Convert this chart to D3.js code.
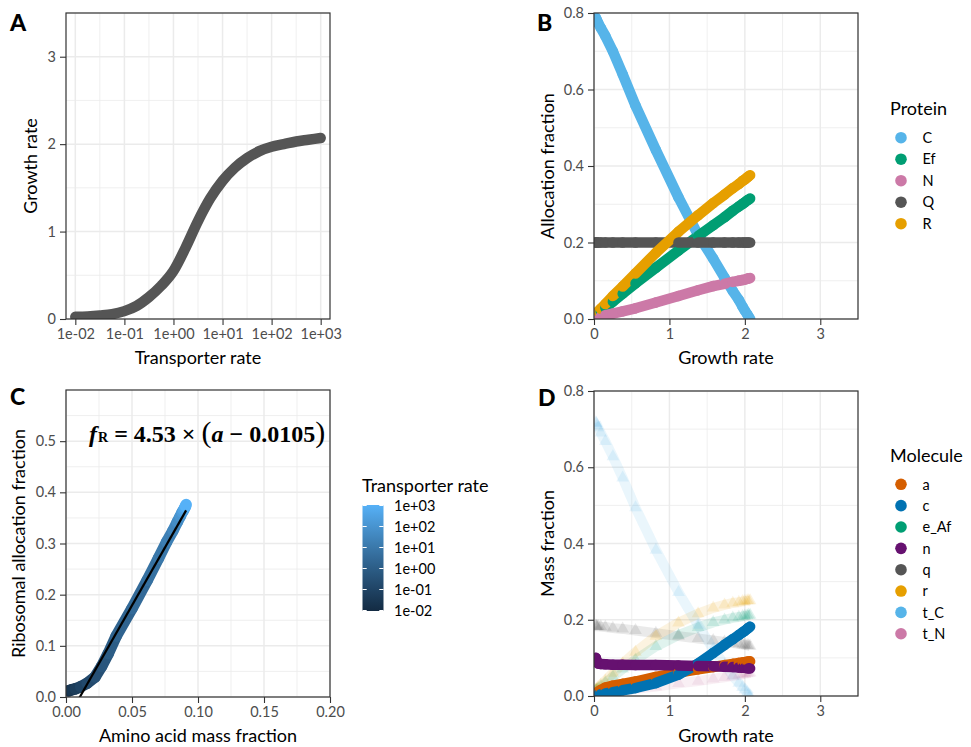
<!DOCTYPE html>
<html>
<head>
<meta charset="utf-8">
<script src="https://cdn.jsdelivr.net/npm/d3@7"></script>
<style>
  body { margin: 0; background: #fff; }
  svg { display: block; }
</style>
</head>
<body>
<svg id="fig" width="971" height="747"></svg>
<script>
// ---------- model sweep over the transporter rate ----------
const transporterRate = [0.01, 0.0178, 0.0316, 0.0562, 0.1, 0.178, 0.316, 0.562, 1, 1.78, 3.16,
                         5.62, 10, 17.8, 31.6, 56.2, 100, 178, 316, 562, 1000];
const growthRate = [0.025, 0.03, 0.04, 0.055, 0.09, 0.15, 0.25, 0.38, 0.55, 0.82, 1.12,
                    1.38, 1.58, 1.73, 1.84, 1.92, 1.97, 2.00, 2.03, 2.05, 2.07];

// protein allocation fractions
const proteinNames = ["C", "Ef", "N", "Q", "R"];
const allocC  = [0.787, 0.785, 0.78, 0.774, 0.761, 0.74, 0.70, 0.64, 0.558, 0.442, 0.318,
                 0.22, 0.158, 0.108, 0.073, 0.05, 0.032, 0.022, 0.013, 0.006, 0.0];
const allocEf = [0.008, 0.009, 0.011, 0.013, 0.019, 0.029, 0.045, 0.066, 0.093, 0.134, 0.179,
                 0.217, 0.245, 0.266, 0.283, 0.294, 0.301, 0.305, 0.31, 0.312, 0.315];
const allocN  = [0.003, 0.004, 0.004, 0.005, 0.007, 0.01, 0.014, 0.02, 0.028, 0.043, 0.06,
                 0.075, 0.086, 0.092, 0.097, 0.1, 0.102, 0.103, 0.105, 0.106, 0.107];
const allocQ  = [0.2, 0.2, 0.2, 0.2, 0.2, 0.2, 0.2, 0.2, 0.2, 0.2, 0.2,
                 0.2, 0.2, 0.2, 0.2, 0.2, 0.2, 0.2, 0.2, 0.2, 0.2];
const allocR  = [0.012, 0.014, 0.016, 0.02, 0.027, 0.039, 0.06, 0.085, 0.119, 0.173, 0.228,
                 0.271, 0.303, 0.325, 0.342, 0.353, 0.361, 0.365, 0.37, 0.373, 0.376];

// molecule mass fractions
const moleculeNames = ["a", "c", "e_Af", "n", "q", "r", "t_C", "t_N"];
const massA   = [0.002, 0.004, 0.007, 0.011, 0.016, 0.022, 0.027, 0.032, 0.038, 0.05, 0.0615,
                 0.07, 0.0762, 0.081, 0.0843, 0.0865, 0.088, 0.089, 0.09, 0.0905, 0.091];
const massC   = [0.002, 0.002, 0.003, 0.004, 0.005, 0.007, 0.01, 0.015, 0.021, 0.034, 0.056,
                 0.085, 0.113, 0.134, 0.149, 0.16, 0.167, 0.171, 0.176, 0.179, 0.182];
const massEAf = [0.014, 0.015, 0.016, 0.019, 0.024, 0.034, 0.05, 0.071, 0.095, 0.13, 0.16,
                 0.18, 0.193, 0.2, 0.205, 0.207, 0.209, 0.21, 0.211, 0.212, 0.212];
const massN   = [0.1, 0.095, 0.088, 0.085, 0.084, 0.083, 0.082, 0.082, 0.081, 0.081, 0.08,
                 0.079, 0.078, 0.077, 0.076, 0.075, 0.074, 0.074, 0.073, 0.073, 0.072];
const massQ   = [0.184, 0.183, 0.183, 0.183, 0.182, 0.181, 0.178, 0.176, 0.172, 0.165, 0.157,
                 0.151, 0.146, 0.142, 0.139, 0.137, 0.135, 0.134, 0.133, 0.132, 0.131];
const massR   = [0.015, 0.016, 0.018, 0.022, 0.029, 0.04, 0.06, 0.085, 0.115, 0.157, 0.192,
                 0.216, 0.231, 0.239, 0.244, 0.246, 0.248, 0.249, 0.25, 0.25, 0.25];
const massTC  = [0.717, 0.715, 0.71, 0.704, 0.69, 0.668, 0.628, 0.572, 0.494, 0.383, 0.272,
                 0.186, 0.123, 0.082, 0.053, 0.034, 0.023, 0.016, 0.009, 0.004, 0.0];
const massTN  = [0.002, 0.002, 0.003, 0.003, 0.004, 0.006, 0.01, 0.014, 0.019, 0.025, 0.033,
                 0.039, 0.045, 0.049, 0.053, 0.055, 0.057, 0.058, 0.059, 0.06, 0.061];

// linear fit of ribosomal allocation against amino acid mass fraction
const fitSlope = 4.53;
const fitIntercept = 0.0105;

// tick values and labels
const transporterTicks = [0.01, 0.1, 1, 10, 100, 1000];
const transporterTickLabels = ["1e-02", "1e-01", "1e+00", "1e+01", "1e+02", "1e+03"];
const growthTicksA = [0, 1, 2, 3];
const growthTickLabelsA = ["0", "1", "2", "3"];
const growthTicks = [0, 1, 2, 3];
const growthTickLabels = ["0", "1", "2", "3"];
const fractionTicks = [0, 0.2, 0.4, 0.6, 0.8];
const fractionTickLabels = ["0.0", "0.2", "0.4", "0.6", "0.8"];
const aminoTicks = [0, 0.05, 0.1, 0.15, 0.2];
const aminoTickLabels = ["0.00", "0.05", "0.10", "0.15", "0.20"];
const riboTicks = [0, 0.1, 0.2, 0.3, 0.4, 0.5];
const riboTickLabels = ["0.0", "0.1", "0.2", "0.3", "0.4", "0.5"];

// ---------- styling ----------
const FONT = "Lato, 'Noto Sans', 'DejaVu Sans', sans-serif";
const GRID = "#EBEBEB";
const INK = "#333333";
const proteinColors = { C: "#56B4E9", Ef: "#009E73", N: "#CC79A7", Q: "#555555", R: "#E69F00" };
const moleculeColors = { a: "#D55E00", c: "#0072B2", e_Af: "#009E73", n: "#661170",
                         q: "#555555", r: "#E69F00", t_C: "#56B4E9", t_N: "#CC79A7" };
const translucent = new Set(["e_Af", "q", "r", "t_C", "t_N"]);
const PT = 10.5; // point diameter

const svg = d3.select("#fig");
svg.append("rect").attr("width", 971).attr("height", 747).attr("fill", "#fff");
const defs = svg.append("defs");

const midpoints = (t, geo) => {
  const out = [];
  for (let i = 0; i < t.length - 1; i++) out.push(geo ? Math.sqrt(t[i] * t[i + 1]) : (t[i] + t[i + 1]) / 2);
  return out;
};

function makePanel(cfg) {
  const { x, y, id } = cfg;
  const [xl, xr] = x.range();
  const [yb, yt] = y.range();
  const g = svg.append("g");
  const grid = g.append("g");
  const vline = (v, w) => grid.append("line").attr("x1", x(v)).attr("x2", x(v)).attr("y1", yt).attr("y2", yb)
      .attr("stroke", GRID).attr("stroke-width", w);
  const hline = (v, w) => grid.append("line").attr("y1", y(v)).attr("y2", y(v)).attr("x1", xl).attr("x2", xr)
      .attr("stroke", GRID).attr("stroke-width", w);
  cfg.xMinor.forEach(v => vline(v, 0.8));
  cfg.yMinor.forEach(v => hline(v, 0.8));
  cfg.xTicks.forEach(v => vline(v, 1.5));
  cfg.yTicks.forEach(v => hline(v, 1.5));

  defs.append("clipPath").attr("id", id).append("rect")
    .attr("x", xl).attr("y", yt).attr("width", xr - xl).attr("height", yb - yt);
  const marks = g.append("g").attr("clip-path", `url(#${id})`);

  g.append("rect").attr("x", xl).attr("y", yt).attr("width", xr - xl).attr("height", yb - yt)
    .attr("fill", "none").attr("stroke", INK).attr("stroke-width", 1.2);

  const styleAxis = sel => {
    sel.attr("font-family", FONT).attr("font-size", 14.5);
    sel.select(".domain").remove();
    sel.selectAll("line").attr("stroke", INK).attr("stroke-width", 1.1);
    sel.selectAll("text").attr("fill", "#4D4D4D");
  };
  g.append("g").attr("transform", `translate(0,${yb})`)
    .call(d3.axisBottom(x).tickValues(cfg.xTicks).tickFormat((d, i) => cfg.xLabels[i]).tickSize(6).tickPadding(4))
    .call(styleAxis);
  g.append("g").attr("transform", `translate(${xl},0)`)
    .call(d3.axisLeft(y).tickValues(cfg.yTicks).tickFormat((d, i) => cfg.yLabels[i]).tickSize(6).tickPadding(4))
    .call(styleAxis);

  g.append("text").attr("x", (xl + xr) / 2).attr("y", cfg.xTitleY).attr("text-anchor", "middle")
    .attr("font-family", FONT).attr("font-size", 18).attr("fill", "#000").text(cfg.xTitle);
  g.append("text").attr("transform", `translate(${cfg.yTitleX},${(yt + yb) / 2}) rotate(-90)`)
    .attr("text-anchor", "middle").attr("font-family", FONT).attr("font-size", 18).attr("fill", "#000")
    .text(cfg.yTitle);
  g.append("text").attr("x", cfg.letterX).attr("y", cfg.letterY)
    .attr("font-family", FONT).attr("font-size", 23).attr("font-weight", 900).attr("fill", "#000")
    .text(cfg.letter);
  return marks;
}

// draws several series point-row by point-row, as ggplot layers its points
function rowSegments(marks, xs, seriesList, x, y) {
  for (let i = 0; i < xs.length; i++) {
    seriesList.forEach(s => {
      const j = Math.max(0, i - 1);
      marks.append("line")
        .attr("x1", x(xs[j])).attr("y1", y(s.values[j]))
        .attr("x2", x(xs[i])).attr("y2", y(s.values[i]))
        .attr("stroke", s.color).attr("stroke-width", PT).attr("stroke-linecap", "round");
    });
  }
}

// ---------- panel A ----------
const xA = d3.scaleLog().domain([Math.pow(10, -2.19), Math.pow(10, 3.19)]).range([66, 330]);
const yA = d3.scaleLinear().domain([0, 3.5]).range([319, 13]);
const marksA = makePanel({
  id: "clipA", x: xA, y: yA,
  xTicks: transporterTicks, xLabels: transporterTickLabels, xMinor: midpoints(transporterTicks, true),
  yTicks: growthTicksA, yLabels: growthTickLabelsA, yMinor: midpoints(growthTicksA.concat([4]), false),
  xTitle: "Transporter rate", xTitleY: 363.5, yTitle: "Growth rate", yTitleX: 37,
  letter: "A", letterX: 10, letterY: 30.5
});
marksA.append("path")
  .datum(d3.zip(transporterRate, growthRate))
  .attr("d", d3.line().curve(d3.curveMonotoneX).x(d => xA(d[0])).y(d => yA(d[1])))
  .attr("fill", "none").attr("stroke", "#555555").attr("stroke-width", PT)
  .attr("stroke-linecap", "round").attr("stroke-linejoin", "round");

// ---------- panel B ----------
const xB = d3.scaleLinear().domain([0, 3.5]).range([594, 858]);
const yB = d3.scaleLinear().domain([0, 0.8]).range([319, 13]);
const marksB = makePanel({
  id: "clipB", x: xB, y: yB,
  xTicks: growthTicks, xLabels: growthTickLabels, xMinor: midpoints(growthTicks.concat([4]), false),
  yTicks: fractionTicks, yLabels: fractionTickLabels, yMinor: midpoints(fractionTicks, false),
  xTitle: "Growth rate", xTitleY: 363.5, yTitle: "Allocation fraction", yTitleX: 553.5,
  letter: "B", letterX: 537, letterY: 30.5
});
const allocSeries = [allocC, allocEf, allocN, allocQ, allocR]
  .map((values, k) => ({ name: proteinNames[k], values, color: proteinColors[proteinNames[k]] }));
rowSegments(marksB, growthRate, allocSeries, xB, yB);

// ---------- panel C ----------
const xC = d3.scaleLinear().domain([0, 0.2]).range([66, 330]);
const yC = d3.scaleLinear().domain([0, 0.6]).range([697, 390]);
const marksC = makePanel({
  id: "clipC", x: xC, y: yC,
  xTicks: aminoTicks, xLabels: aminoTickLabels, xMinor: midpoints(aminoTicks, false),
  yTicks: riboTicks, yLabels: riboTickLabels, yMinor: midpoints(riboTicks.concat([0.6]), false),
  xTitle: "Amino acid mass fraction", xTitleY: 742, yTitle: "Ribosomal allocation fraction", yTitleX: 25,
  letter: "C", letterX: 10, letterY: 405
});
const rateColor = d3.scaleLinear().domain([-2, 3]).range(["#132B43", "#56B1F7"]).interpolate(d3.interpolateLab);
for (let i = 0; i < transporterRate.length; i++) {
  const j = Math.max(0, i - 1);
  marksC.append("line")
    .attr("x1", xC(massA[j])).attr("y1", yC(allocR[j]))
    .attr("x2", xC(massA[i])).attr("y2", yC(allocR[i]))
    .attr("stroke", rateColor(Math.log10(transporterRate[i])))
    .attr("stroke-width", PT + 1).attr("stroke-linecap", "round");
}
const aRange = d3.extent(massA);
marksC.append("line")
  .attr("x1", xC(aRange[0])).attr("y1", yC(fitSlope * (aRange[0] - fitIntercept)))
  .attr("x2", xC(aRange[1])).attr("y2", yC(fitSlope * (aRange[1] - fitIntercept)))
  .attr("stroke", "#000").attr("stroke-width", 2.2);

// fit equation
const eq = svg.append("text").attr("x", 89).attr("y", 441.5)
  .attr("font-family", "'Liberation Serif', 'DejaVu Serif', serif")
  .attr("font-size", 24).attr("font-weight", "bold").attr("fill", "#000");
eq.append("tspan").attr("font-style", "italic").text("f");
eq.append("tspan").attr("font-size", 14).attr("dx", 1).text("R");
eq.append("tspan").text(` = ${fitSlope.toFixed(2)} × `);
eq.append("tspan").attr("font-size", 30).attr("font-weight", "normal").text("(");
eq.append("tspan").attr("font-style", "italic").text("a");
eq.append("tspan").text(` − ${fitIntercept}`);
eq.append("tspan").attr("font-size", 30).attr("font-weight", "normal").text(")");

// colour bar legend
const legC = svg.append("g");
legC.append("text").attr("x", 362).attr("y", 491.5).attr("font-family", FONT).attr("font-size", 18)
  .attr("fill", "#000").text("Transporter rate");
const grad = defs.append("linearGradient").attr("id", "rateGrad")
  .attr("x1", 0).attr("x2", 0).attr("y1", 1).attr("y2", 0);
d3.range(0, 1.0001, 0.1).forEach(t => grad.append("stop")
  .attr("offset", t).attr("stop-color", rateColor(-2 + 5 * t)));
const barY = d3.scaleLog().domain([0.01, 1000]).range([610.5, 505.5]);
legC.append("rect").attr("x", 362.5).attr("y", 505).attr("width", 21).attr("height", 106)
  .attr("fill", "url(#rateGrad)");
transporterTicks.forEach((v, i) => {
  const yy = barY(v);
  legC.append("line").attr("x1", 362.5).attr("x2", 366.7).attr("y1", yy).attr("y2", yy)
    .attr("stroke", "#fff").attr("stroke-width", 1);
  legC.append("line").attr("x1", 379.3).attr("x2", 383.5).attr("y1", yy).attr("y2", yy)
    .attr("stroke", "#fff").attr("stroke-width", 1);
  legC.append("text").attr("x", 394).attr("y", yy + 5.2).attr("font-family", FONT)
    .attr("font-size", 14.5).attr("fill", "#000").text(transporterTickLabels[i]);
});

// ---------- panel D ----------
const xD = d3.scaleLinear().domain([0, 3.5]).range([594, 858]);
const yD = d3.scaleLinear().domain([0, 0.8]).range([696, 391]);
const marksD = makePanel({
  id: "clipD", x: xD, y: yD,
  xTicks: growthTicks, xLabels: growthTickLabels, xMinor: midpoints(growthTicks.concat([4]), false),
  yTicks: fractionTicks, yLabels: fractionTickLabels, yMinor: midpoints(fractionTicks, false),
  xTitle: "Growth rate", xTitleY: 742, yTitle: "Mass fraction", yTitleX: 553.5,
  letter: "D", letterX: 538, letterY: 405.5
});
const massSeries = [massA, massC, massEAf, massN, massQ, massR, massTC, massTN]
  .map((values, k) => ({ name: moleculeNames[k], values, color: moleculeColors[moleculeNames[k]] }));
const tri = d3.symbol().type(d3.symbolTriangle).size(70);
massSeries.filter(s => translucent.has(s.name)).forEach(s => {
  marksD.append("path")
    .datum(d3.zip(growthRate, s.values))
    .attr("d", d3.line().x(d => xD(d[0])).y(d => yD(d[1])))
    .attr("fill", "none").attr("stroke", s.color).attr("stroke-opacity", 0.12)
    .attr("stroke-width", 10);
  growthRate.forEach((gr, i) => {
    marksD.append("path").attr("d", tri)
      .attr("transform", `translate(${xD(gr)},${yD(s.values[i])})`)
      .attr("fill", s.color).attr("fill-opacity", 0.13);
  });
});
rowSegments(marksD, growthRate, massSeries.filter(s => !translucent.has(s.name)), xD, yD);

// ---------- discrete legends ----------
function keyLegend(title, names, colors, titleY, firstY, step) {
  const lg = svg.append("g");
  lg.append("text").attr("x", 890).attr("y", titleY).attr("font-family", FONT).attr("font-size", 18)
    .attr("fill", "#000").text(title);
  names.forEach((n, i) => {
    const yy = firstY + i * step;
    lg.append("circle").attr("cx", 901).attr("cy", yy).attr("r", 5.8).attr("fill", colors[n]);
    lg.append("text").attr("x", 922.5).attr("y", yy + 5.2).attr("font-family", FONT)
      .attr("font-size", 14.5).attr("fill", "#000").text(n);
  });
}
keyLegend("Protein", proteinNames, proteinColors, 115, 137.7, 21.5);
keyLegend("Molecule", moleculeNames, moleculeColors, 461.5, 484.3, 21.35);
</script>
</body>
</html>
